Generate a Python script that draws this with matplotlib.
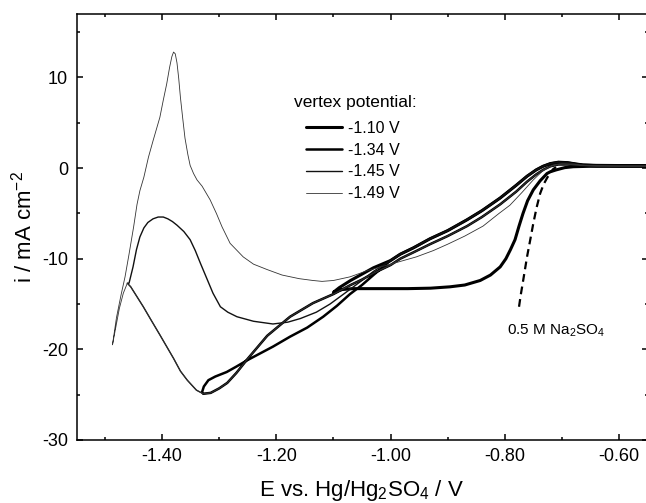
import matplotlib
matplotlib.use("Agg")
import matplotlib.pyplot as plt
from matplotlib.ticker import MultipleLocator, FormatStrFormatter

plt.rcParams['font.family'] = ['Liberation Sans', 'DejaVu Sans']
plt.rcParams['mathtext.fontset'] = 'custom'
plt.rcParams['mathtext.rm'] = 'Liberation Sans'
plt.rcParams['mathtext.it'] = 'Liberation Sans:italic'
plt.rcParams['axes.unicode_minus'] = False

# ---------------- data (E in V vs Hg/Hg2SO4, i in mA cm^-2) ----------------
# shared cathodic path (upper cluster, then lower loop branch) used by later cycles
cath_E = [-0.55, -0.60, -0.64, -0.67, -0.69, -0.706, -0.72, -0.733, -0.745, -0.761, -0.78,
          -0.808, -0.84, -0.866, -0.90, -0.931, -0.96, -0.983, -1.00, -1.03, -1.05, -1.07,
          -1.10, -1.136, -1.176, -1.216, -1.251, -1.27, -1.286, -1.30, -1.315, -1.328]
cath_i = [0.2, 0.2, 0.2, 0.3, 0.4, 0.4, 0.2, -0.2, -0.7, -1.5, -2.6,
          -4.0, -5.4, -6.4, -7.5, -8.4, -9.3, -10.0, -10.7, -11.6, -12.3, -12.9,
          -13.9, -14.9, -16.4, -18.5, -21.1, -22.6, -23.7, -24.3, -24.8, -24.9]

# shared anodic path (upper cluster) back to the starting potential
anod_E = [-1.00, -0.983, -0.96, -0.931, -0.90, -0.866, -0.84, -0.808, -0.78, -0.761,
          -0.745, -0.733, -0.72, -0.706, -0.69, -0.675, -0.663, -0.64, -0.60, -0.55]
anod_i = [-10.2, -9.5, -8.8, -7.8, -6.9, -5.7, -4.7, -3.3, -1.9, -0.9,
          -0.2, 0.2, 0.5, 0.65, 0.6, 0.45, 0.35, 0.3, 0.28, 0.28]

# -1.10 V: first scan with plateau
v110_cath_E = [-0.55, -0.60, -0.65, -0.68, -0.695, -0.71, -0.72, -0.726, -0.738, -0.75, -0.76,
               -0.768, -0.775, -0.782, -0.79, -0.798, -0.808, -0.825, -0.843, -0.87, -0.896,
               -0.93, -0.97, -1.00, -1.04, -1.066, -1.085, -1.10]
v110_cath_i = [0.2, 0.2, 0.2, 0.15, 0.05, -0.2, -0.4, -0.6, -1.4, -2.4, -3.6,
               -5.0, -6.4, -7.9, -9.0, -10.0, -10.9, -11.8, -12.4, -12.9, -13.1,
               -13.25, -13.3, -13.3, -13.3, -13.3, -13.4, -13.7]
v110_ret_E = [-1.09, -1.07, -1.05, -1.03]
v110_ret_i = [-13.2, -12.4, -11.7, -11.0]

# -1.34 V: nucleation loop return branch
v134_ret_E = [-1.330, -1.327, -1.319, -1.307, -1.287, -1.27, -1.251, -1.23, -1.206, -1.176, -1.146,
              -1.118, -1.094, -1.071, -1.05, -1.03]
v134_ret_i = [-24.7, -24.1, -23.4, -23.0, -22.5, -21.9, -21.2, -20.5, -19.7, -18.6, -17.6,
              -16.4, -15.2, -13.9, -12.9, -11.8]

# lower-left part shared by -1.45 V and -1.49 V cathodic scans
left_E = [-1.34, -1.356, -1.368, -1.38, -1.392, -1.404, -1.42, -1.433, -1.445, -1.455, -1.461]
left_i = [-24.5, -23.4, -22.4, -21.0, -19.7, -18.4, -16.7, -15.3, -14.1, -13.1, -12.7]

# -1.45 V return
v145_ret_E = [-1.458, -1.451, -1.445, -1.439, -1.432, -1.425, -1.416, -1.407, -1.398, -1.39,
              -1.382, -1.374, -1.362, -1.351, -1.342, -1.333,
              -1.321, -1.311, -1.298, -1.285, -1.269, -1.24, -1.206, -1.18, -1.158, -1.13,
              -1.106, -1.08, -1.05, -1.03]
v145_ret_i = [-12.7, -10.9, -9.0, -7.6, -6.6, -6.0, -5.6, -5.4, -5.4, -5.6,
              -5.9, -6.3, -7.0, -7.9, -9.1, -10.5,
              -12.3, -13.8, -15.3, -15.9, -16.4, -16.9, -17.2, -17.0, -16.6, -15.9,
              -15.0, -13.8, -12.4, -11.4]

# -1.49 V: extra cathodic tail and full return
v149_tail_E = [-1.468, -1.475, -1.481, -1.487]
v149_tail_i = [-13.8, -15.5, -17.5, -19.5]
v149_ret_E = [-1.480, -1.472, -1.465, -1.458, -1.45, -1.444, -1.439, -1.432, -1.424, -1.416,
              -1.404, -1.398, -1.392, -1.387, -1.383, -1.380, -1.377, -1.374, -1.371, -1.368,
              -1.364, -1.36, -1.355, -1.351, -1.345, -1.339, -1.33, -1.316, -1.305, -1.295,
              -1.281, -1.258, -1.24, -1.216, -1.19, -1.16, -1.136, -1.12, -1.10, -1.071,
              -1.04, -1.00, -0.983, -0.955, -0.925, -0.90, -0.87, -0.838, -0.81, -0.791,
              -0.77, -0.75, -0.735, -0.726, -0.715, -0.70, -0.68, -0.66, -0.60, -0.55]
v149_ret_i = [-16.5, -14.0, -12.0, -9.5, -6.5, -4.0, -2.5, -1.0, 1.2, 3.0,
              5.6, 7.5, 9.3, 11.1, 12.3, 12.8, 12.6, 11.6, 9.9, 7.8,
              5.5, 3.3, 1.5, 0.3, -0.6, -1.3, -2.0, -3.5, -5.0, -6.5,
              -8.3, -9.8, -10.6, -11.2, -11.8, -12.2, -12.4, -12.5, -12.4, -12.0,
              -11.3, -10.6, -10.3, -9.8, -9.1, -8.4, -7.5, -6.4, -5.0, -4.1,
              -2.7, -1.3, -0.4, 0.0, 0.35, 0.5, 0.45, 0.3, 0.25, 0.25]

# blank electrolyte (dashed)
na2so4_E = [-0.775, -0.772, -0.768, -0.761, -0.755, -0.750, -0.744, -0.738, -0.732,
            -0.726, -0.72, -0.715, -0.71]
na2so4_i = [-15.3, -14.0, -12.5, -9.8, -7.8, -6.1, -4.3, -2.8, -1.8,
            -1.1, -0.5, -0.1, 0.1]

labels = ['-1.10 V', '-1.34 V', '-1.45 V', '-1.49 V']

# ---------------- assemble curves ----------------
c110_E = v110_cath_E + v110_ret_E + anod_E
c110_i = v110_cath_i + v110_ret_i + anod_i
c134_E = cath_E + v134_ret_E + anod_E
c134_i = cath_i + v134_ret_i + anod_i
c145_E = cath_E + left_E + v145_ret_E + anod_E
c145_i = cath_i + left_i + v145_ret_i + anod_i
c149_E = cath_E + left_E + v149_tail_E + v149_ret_E
c149_i = cath_i + left_i + v149_tail_i + v149_ret_i

fig = plt.figure(figsize=(6.46, 5.03), dpi=100)
ax = fig.add_axes([76.5 / 646, 63 / 503, 571 / 646, 426 / 503])

kw = dict(solid_joinstyle='round', solid_capstyle='round')
l1, = ax.plot(c110_E, c110_i, color='black', lw=2.2, **kw)
l2, = ax.plot(c134_E, c134_i, color='black', lw=1.8, **kw)
l3, = ax.plot(c145_E, c145_i, color='#111111', lw=1.0, **kw)
l4, = ax.plot(c149_E, c149_i, color='#333333', lw=0.6, **kw)
ax.plot(na2so4_E, na2so4_i, color='black', lw=1.6, dashes=(3.5, 2.2))

ax.set_xlim(-1.55, -0.55)
ax.set_ylim(-30, 17)
ax.xaxis.set_major_locator(MultipleLocator(0.2))
ax.xaxis.set_minor_locator(MultipleLocator(0.1))
ax.yaxis.set_major_locator(MultipleLocator(10))
ax.yaxis.set_minor_locator(MultipleLocator(5))
ax.xaxis.set_major_formatter(FormatStrFormatter('%.2f'))
ax.yaxis.set_major_formatter(FormatStrFormatter('%d'))
ax.tick_params(which='both', direction='in', top=True, right=True, width=1.1, labelsize=13)
ax.tick_params(which='major', length=4.5, pad=6)
ax.tick_params(which='minor', length=2.5)
for s in ax.spines.values():
    s.set_linewidth(1.1)

ax.set_xlabel(r'E vs. Hg/Hg$_2$SO$_4$ / V', fontsize=16, labelpad=9)
ax.set_ylabel(r'i / mA cm$^{-2}$', fontsize=16, labelpad=4)

fig.text(294 / 646, 1 - 102 / 503, 'vertex potential:', fontsize=12.5, va='center', ha='left')
ax.legend([l1, l2, l3, l4], labels, loc='upper left', frameon=False, fontsize=11.5,
          bbox_to_anchor=(306 / 646, 1 - 121 / 503), bbox_transform=fig.transFigure,
          borderpad=0, borderaxespad=0, handlelength=2.25, handletextpad=0.4, labelspacing=0.42)

fig.text(507 / 646, 1 - 331 / 503, r'0.5 M Na$_2$SO$_4$', fontsize=11, va='center', ha='left')

fig.savefig('out.png', dpi=100)
